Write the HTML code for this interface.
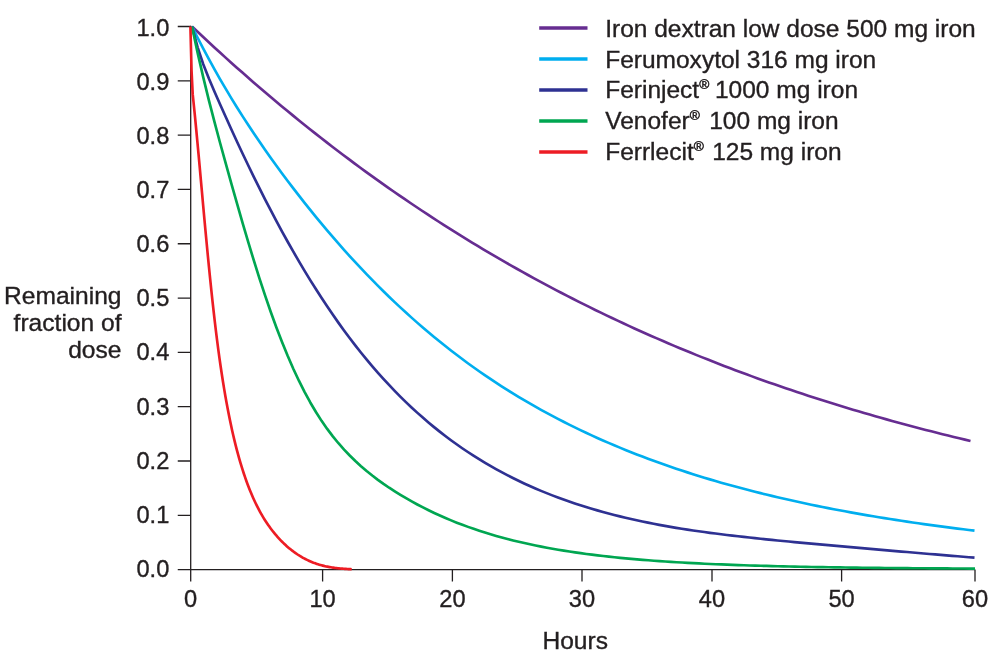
<!DOCTYPE html>
<html lang="en"><head><meta charset="utf-8"><title>Remaining fraction of dose</title>
<style>
html,body{margin:0;padding:0;background:#fff;}
svg{display:block;}
text{font-family:"Liberation Sans",Arial,Helvetica,sans-serif;font-size:23.3px;fill:#231f20;stroke:#231f20;stroke-width:0.35px;}
.c{fill:none;stroke-width:2.65;stroke-linecap:butt;stroke-linejoin:round;}
.a{stroke:#231f20;stroke-width:1.3;fill:none;}
</style></head><body>
<svg width="1000" height="657" viewBox="0 0 1000 657">
<rect width="1000" height="657" fill="#fff"/>
<path class="a" d="M190.7,25.85 V581.5 M177.75,569.6 H975"/>
<path class="a" d="M177.75,26.50 H190.7 M177.75,80.81 H190.7 M177.75,135.12 H190.7 M177.75,189.43 H190.7 M177.75,243.74 H190.7 M177.75,298.05 H190.7 M177.75,352.36 H190.7 M177.75,406.67 H190.7 M177.75,460.98 H190.7 M177.75,515.29 H190.7"/>
<path class="a" d="M322.6,569.6 V581.5 M452.4,569.6 V581.5 M582.0,569.6 V581.5 M712.0,569.6 V581.5 M841.6,569.6 V581.5 M975.0,569.6 V581.5"/>
<path class="c" stroke="#662d91" d="M192.00,26.50 L197.60,31.79 L203.20,37.04 L208.80,42.24 L214.40,47.41 L220.00,52.53 L225.60,57.61 L231.21,62.65 L236.81,67.65 L242.41,72.60 L248.01,77.52 L253.61,82.39 L259.21,87.23 L264.81,92.02 L270.41,96.77 L276.01,101.49 L281.61,106.16 L287.21,110.79 L292.81,115.39 L298.41,119.94 L304.01,124.46 L309.62,128.93 L315.22,133.37 L320.82,137.76 L326.42,142.12 L332.02,146.44 L337.62,150.73 L343.22,154.97 L348.82,159.18 L354.42,163.35 L360.02,167.48 L365.62,171.57 L371.22,175.63 L376.82,179.65 L382.42,183.63 L388.03,187.58 L393.63,191.49 L399.23,195.36 L404.83,199.20 L410.43,203.00 L416.03,206.77 L421.63,210.50 L427.23,214.20 L432.83,217.86 L438.43,221.49 L444.03,225.08 L449.63,228.64 L455.23,232.17 L460.83,235.66 L466.44,239.12 L472.04,242.54 L477.64,245.93 L483.24,249.29 L488.84,252.62 L494.44,255.91 L500.04,259.17 L505.64,262.41 L511.24,265.60 L516.84,268.77 L522.44,271.91 L528.04,275.01 L533.64,278.09 L539.24,281.13 L544.85,284.14 L550.45,287.13 L556.05,290.08 L561.65,293.00 L567.25,295.90 L572.85,298.76 L578.45,301.60 L584.05,304.41 L589.65,307.18 L595.25,309.94 L600.85,312.66 L606.45,315.35 L612.05,318.02 L617.65,320.66 L623.26,323.27 L628.86,325.86 L634.46,328.42 L640.06,330.95 L645.66,333.46 L651.26,335.94 L656.86,338.39 L662.46,340.82 L668.06,343.22 L673.66,345.60 L679.26,347.95 L684.86,350.28 L690.46,352.59 L696.06,354.87 L701.67,357.12 L707.27,359.35 L712.87,361.56 L718.47,363.75 L724.07,365.91 L729.67,368.05 L735.27,370.16 L740.87,372.25 L746.47,374.32 L752.07,376.37 L757.67,378.40 L763.27,380.40 L768.87,382.38 L774.47,384.35 L780.08,386.29 L785.68,388.21 L791.28,390.10 L796.88,391.98 L802.48,393.84 L808.08,395.67 L813.68,397.49 L819.28,399.29 L824.88,401.07 L830.48,402.82 L836.08,404.56 L841.68,406.28 L847.28,407.98 L852.88,409.66 L858.49,411.33 L864.09,412.97 L869.69,414.60 L875.29,416.21 L880.89,417.80 L886.49,419.37 L892.09,420.93 L897.69,422.47 L903.29,423.99 L908.89,425.49 L914.49,426.98 L920.09,428.45 L925.69,429.91 L931.29,431.34 L936.90,432.77 L942.50,434.17 L948.10,435.56 L953.70,436.94 L959.30,438.30 L964.90,439.64 L970.50,440.97"/>
<path class="c" stroke="#00aeef" d="M192.00,26.50 L197.63,37.75 L203.26,48.63 L208.89,59.16 L214.52,69.38 L220.15,79.29 L225.78,88.93 L231.41,98.31 L237.04,107.44 L242.67,116.35 L248.29,125.04 L253.92,133.53 L259.55,141.84 L265.18,149.97 L270.81,157.94 L276.44,165.75 L282.07,173.43 L287.70,180.97 L293.33,188.38 L298.96,195.67 L304.59,202.85 L310.22,209.91 L315.85,216.85 L321.48,223.67 L327.11,230.38 L332.74,236.97 L338.37,243.44 L344.00,249.80 L349.63,256.05 L355.26,262.19 L360.88,268.22 L366.51,274.13 L372.14,279.94 L377.77,285.64 L383.40,291.23 L389.03,296.72 L394.66,302.10 L400.29,307.39 L405.92,312.57 L411.55,317.64 L417.18,322.62 L422.81,327.51 L428.44,332.29 L434.07,336.98 L439.70,341.58 L445.33,346.08 L450.96,350.50 L456.59,354.82 L462.22,359.05 L467.85,363.20 L473.47,367.26 L479.10,371.24 L484.73,375.14 L490.36,378.95 L495.99,382.68 L501.62,386.33 L507.25,389.91 L512.88,393.41 L518.51,396.84 L524.14,400.19 L529.77,403.48 L535.40,406.69 L541.03,409.84 L546.66,412.93 L552.29,415.95 L557.92,418.90 L563.55,421.80 L569.18,424.63 L574.81,427.41 L580.44,430.12 L586.06,432.79 L591.69,435.39 L597.32,437.95 L602.95,440.45 L608.58,442.90 L614.21,445.30 L619.84,447.65 L625.47,449.95 L631.10,452.20 L636.73,454.41 L642.36,456.57 L647.99,458.69 L653.62,460.77 L659.25,462.81 L664.88,464.80 L670.51,466.75 L676.14,468.66 L681.77,470.54 L687.40,472.38 L693.03,474.18 L698.65,475.94 L704.28,477.67 L709.91,479.36 L715.54,481.02 L721.17,482.65 L726.80,484.24 L732.43,485.81 L738.06,487.34 L743.69,488.84 L749.32,490.31 L754.95,491.75 L760.58,493.16 L766.21,494.55 L771.84,495.91 L777.47,497.24 L783.10,498.54 L788.73,499.82 L794.36,501.08 L799.99,502.31 L805.62,503.51 L811.24,504.70 L816.87,505.86 L822.50,506.99 L828.13,508.11 L833.76,509.20 L839.39,510.27 L845.02,511.32 L850.65,512.35 L856.28,513.36 L861.91,514.35 L867.54,515.33 L873.17,516.28 L878.80,517.22 L884.43,518.13 L890.06,519.03 L895.69,519.91 L901.32,520.78 L906.95,521.63 L912.58,522.46 L918.21,523.28 L923.83,524.08 L929.46,524.87 L935.09,525.64 L940.72,526.40 L946.35,527.14 L951.98,527.87 L957.61,528.58 L963.24,529.28 L968.87,529.97 L974.50,530.65"/>
<path class="c" stroke="#2e3192" d="M192.00,26.50 L197.63,47.33 L203.26,64.22 L208.89,78.59 L214.52,91.70 L220.15,104.47 L225.78,117.07 L231.41,129.47 L237.04,141.69 L242.67,153.70 L248.29,165.49 L253.92,177.07 L259.55,188.43 L265.18,199.56 L270.81,210.46 L276.44,221.13 L282.07,231.56 L287.70,241.74 L293.33,251.69 L298.96,261.40 L304.59,270.86 L310.22,280.08 L315.85,289.07 L321.48,297.81 L327.11,306.32 L332.74,314.59 L338.37,322.62 L344.00,330.43 L349.63,338.00 L355.26,345.35 L360.88,352.48 L366.51,359.40 L372.14,366.10 L377.77,372.59 L383.40,378.88 L389.03,384.97 L394.66,390.86 L400.29,396.57 L405.92,402.10 L411.55,407.44 L417.18,412.61 L422.81,417.61 L428.44,422.44 L434.07,427.12 L439.70,431.63 L445.33,436.00 L450.96,440.22 L456.59,444.29 L462.22,448.22 L467.85,452.02 L473.47,455.69 L479.10,459.23 L484.73,462.65 L490.36,465.95 L495.99,469.13 L501.62,472.20 L507.25,475.16 L512.88,478.02 L518.51,480.78 L524.14,483.43 L529.77,486.00 L535.40,488.47 L541.03,490.85 L546.66,493.14 L552.29,495.36 L557.92,497.49 L563.55,499.54 L569.18,501.52 L574.81,503.43 L580.44,505.27 L586.06,507.04 L591.69,508.74 L597.32,510.38 L602.95,511.96 L608.58,513.48 L614.21,514.95 L619.84,516.36 L625.47,517.71 L631.10,519.02 L636.73,520.28 L642.36,521.48 L647.99,522.65 L653.62,523.76 L659.25,524.84 L664.88,525.87 L670.51,526.86 L676.14,527.82 L681.77,528.73 L687.40,529.61 L693.03,530.46 L698.65,531.27 L704.28,532.06 L709.91,532.82 L715.54,533.55 L721.17,534.27 L726.80,534.96 L732.43,535.63 L738.06,536.28 L743.69,536.91 L749.32,537.53 L754.95,538.14 L760.58,538.73 L766.21,539.31 L771.84,539.88 L777.47,540.45 L783.10,541.00 L788.73,541.54 L794.36,542.08 L799.99,542.61 L805.62,543.13 L811.24,543.65 L816.87,544.16 L822.50,544.67 L828.13,545.18 L833.76,545.68 L839.39,546.18 L845.02,546.68 L850.65,547.17 L856.28,547.67 L861.91,548.16 L867.54,548.65 L873.17,549.14 L878.80,549.63 L884.43,550.12 L890.06,550.60 L895.69,551.09 L901.32,551.57 L906.95,552.05 L912.58,552.53 L918.21,553.01 L923.83,553.49 L929.46,553.96 L935.09,554.44 L940.72,554.91 L946.35,555.38 L951.98,555.84 L957.61,556.30 L963.24,556.76 L968.87,557.21 L974.50,557.66"/>
<path class="c" stroke="#00a651" d="M192.00,26.50 L197.63,52.90 L203.27,77.37 L208.90,100.35 L214.53,122.20 L220.17,143.23 L225.80,163.70 L231.43,183.83 L237.06,203.73 L242.70,223.31 L248.33,242.43 L253.96,260.96 L259.60,278.83 L265.23,295.94 L270.86,312.25 L276.50,327.73 L282.13,342.34 L287.76,356.08 L293.40,368.94 L299.03,380.95 L304.66,392.12 L310.29,402.47 L315.93,412.04 L321.56,420.84 L327.19,428.92 L332.83,436.36 L338.46,443.23 L344.09,449.60 L349.73,455.51 L355.36,461.02 L360.99,466.17 L366.63,471.00 L372.26,475.54 L377.89,479.83 L383.53,483.88 L389.16,487.73 L394.79,491.39 L400.42,494.88 L406.06,498.22 L411.69,501.43 L417.32,504.50 L422.96,507.44 L428.59,510.26 L434.22,512.96 L439.86,515.55 L445.49,518.02 L451.12,520.39 L456.76,522.65 L462.39,524.81 L468.02,526.88 L473.65,528.86 L479.29,530.75 L484.92,532.55 L490.55,534.28 L496.19,535.92 L501.82,537.49 L507.45,538.99 L513.09,540.42 L518.72,541.78 L524.35,543.08 L529.99,544.33 L535.62,545.51 L541.25,546.64 L546.88,547.71 L552.52,548.74 L558.15,549.71 L563.78,550.64 L569.42,551.53 L575.05,552.37 L580.68,553.18 L586.32,553.94 L591.95,554.67 L597.58,555.36 L603.22,556.02 L608.85,556.65 L614.48,557.25 L620.12,557.82 L625.75,558.36 L631.38,558.88 L637.01,559.37 L642.65,559.84 L648.28,560.28 L653.91,560.71 L659.55,561.11 L665.18,561.49 L670.81,561.86 L676.45,562.21 L682.08,562.54 L687.71,562.85 L693.35,563.15 L698.98,563.43 L704.61,563.70 L710.24,563.96 L715.88,564.21 L721.51,564.44 L727.14,564.66 L732.78,564.87 L738.41,565.07 L744.04,565.27 L749.68,565.45 L755.31,565.62 L760.94,565.79 L766.58,565.94 L772.21,566.09 L777.84,566.24 L783.47,566.37 L789.11,566.50 L794.74,566.62 L800.37,566.74 L806.01,566.85 L811.64,566.96 L817.27,567.06 L822.91,567.16 L828.54,567.25 L834.17,567.34 L839.81,567.42 L845.44,567.50 L851.07,567.58 L856.71,567.65 L862.34,567.72 L867.97,567.78 L873.60,567.85 L879.24,567.91 L884.87,567.96 L890.50,568.02 L896.14,568.07 L901.77,568.12 L907.40,568.17 L913.04,568.21 L918.67,568.25 L924.30,568.30 L929.94,568.34 L935.57,568.37 L941.20,568.41 L946.83,568.44 L952.47,568.47 L958.10,568.51 L963.73,568.53 L969.37,568.56 L975.00,568.59"/>
<path class="c" stroke="#ed1c24" d="M190.40,26.50 L191.56,71.00 L192.72,94.42 L193.88,105.56 L195.04,117.20 L196.20,129.25 L197.36,141.62 L198.53,154.23 L199.69,166.99 L200.85,179.85 L202.01,192.72 L203.17,205.54 L204.33,218.26 L205.49,230.82 L206.65,243.19 L207.81,255.31 L208.97,267.16 L210.13,278.70 L211.29,289.91 L212.46,300.77 L213.62,311.26 L214.78,321.37 L215.94,331.09 L217.10,340.41 L218.26,349.34 L219.42,357.86 L220.58,366.02 L221.74,373.81 L222.90,381.27 L224.06,388.41 L225.22,395.24 L226.38,401.78 L227.55,408.05 L228.71,414.06 L229.87,419.83 L231.03,425.35 L232.19,430.66 L233.35,435.75 L234.51,440.64 L235.67,445.33 L236.83,449.84 L237.99,454.18 L239.15,458.34 L240.31,462.35 L241.47,466.21 L242.64,469.92 L243.80,473.49 L244.96,476.93 L246.12,480.24 L247.28,483.43 L248.44,486.50 L249.60,489.46 L250.76,492.32 L251.92,495.07 L253.08,497.73 L254.24,500.29 L255.40,502.76 L256.57,505.15 L257.73,507.45 L258.89,509.67 L260.05,511.82 L261.21,513.89 L262.37,515.89 L263.53,517.83 L264.69,519.70 L265.85,521.51 L267.01,523.27 L268.17,524.96 L269.33,526.61 L270.49,528.20 L271.66,529.75 L272.82,531.25 L273.98,532.70 L275.14,534.11 L276.30,535.48 L277.46,536.81 L278.62,538.10 L279.78,539.36 L280.94,540.57 L282.10,541.75 L283.26,542.90 L284.42,544.01 L285.58,545.09 L286.75,546.14 L287.91,547.16 L289.07,548.14 L290.23,549.10 L291.39,550.02 L292.55,550.92 L293.71,551.79 L294.87,552.63 L296.03,553.45 L297.19,554.23 L298.35,554.99 L299.51,555.73 L300.68,556.44 L301.84,557.12 L303.00,557.78 L304.16,558.42 L305.32,559.03 L306.48,559.62 L307.64,560.18 L308.80,560.72 L309.96,561.24 L311.12,561.74 L312.28,562.21 L313.44,562.67 L314.60,563.10 L315.77,563.52 L316.93,563.91 L318.09,564.29 L319.25,564.65 L320.41,564.99 L321.57,565.31 L322.73,565.61 L323.89,565.90 L325.05,566.17 L326.21,566.43 L327.37,566.67 L328.53,566.89 L329.69,567.11 L330.86,567.31 L332.02,567.49 L333.18,567.67 L334.34,567.83 L335.50,567.98 L336.66,568.12 L337.82,568.25 L338.98,568.38 L340.14,568.49 L341.30,568.59 L342.46,568.69 L343.62,568.78 L344.79,568.86 L345.95,568.93 L347.11,569.00 L348.27,569.06 L349.43,569.12 L350.59,569.17 L351.75,569.22"/>
<text transform="translate(169.30,35.65) scale(1.015,1)" text-anchor="end">1.0</text>
<text transform="translate(169.30,89.79) scale(1.015,1)" text-anchor="end">0.9</text>
<text transform="translate(169.30,143.93) scale(1.015,1)" text-anchor="end">0.8</text>
<text transform="translate(169.30,198.07) scale(1.015,1)" text-anchor="end">0.7</text>
<text transform="translate(169.30,252.21) scale(1.015,1)" text-anchor="end">0.6</text>
<text transform="translate(169.30,306.35) scale(1.015,1)" text-anchor="end">0.5</text>
<text transform="translate(169.30,360.49) scale(1.015,1)" text-anchor="end">0.4</text>
<text transform="translate(169.30,414.63) scale(1.015,1)" text-anchor="end">0.3</text>
<text transform="translate(169.30,468.77) scale(1.015,1)" text-anchor="end">0.2</text>
<text transform="translate(169.30,522.91) scale(1.015,1)" text-anchor="end">0.1</text>
<text transform="translate(169.30,577.05) scale(1.015,1)" text-anchor="end">0.0</text>
<text transform="translate(190.50,607.00) scale(1.015,1)" text-anchor="middle">0</text>
<text transform="translate(322.60,607.00) scale(1.015,1)" text-anchor="middle">10</text>
<text transform="translate(452.40,607.00) scale(1.015,1)" text-anchor="middle">20</text>
<text transform="translate(582.00,607.00) scale(1.015,1)" text-anchor="middle">30</text>
<text transform="translate(712.00,607.00) scale(1.015,1)" text-anchor="middle">40</text>
<text transform="translate(841.60,607.00) scale(1.015,1)" text-anchor="middle">50</text>
<text transform="translate(975.00,607.00) scale(1.015,1)" text-anchor="middle">60</text>
<text transform="translate(121.50,304.40) scale(1.055,1)" text-anchor="end">Remaining</text>
<text transform="translate(121.50,331.20) scale(1.055,1)" text-anchor="end">fraction of</text>
<text transform="translate(121.50,357.90) scale(1.055,1)" text-anchor="end">dose</text>
<text transform="translate(575.20,648.75) scale(1.055,1)" text-anchor="middle">Hours</text>
<path class="c" style="stroke-width:3.5" stroke="#662d91" d="M539.2,28 H587.5"/>
<text transform="translate(605.20,36.60) scale(1.052,1)" text-anchor="start">Iron dextran low dose 500 mg iron</text>
<path class="c" style="stroke-width:3.5" stroke="#00aeef" d="M539.2,59 H587.5"/>
<text transform="translate(605.20,67.60) scale(1.052,1)" text-anchor="start">Ferumoxytol 316 mg iron</text>
<path class="c" style="stroke-width:3.5" stroke="#2e3192" d="M539.2,89.9 H587.5"/>
<text transform="translate(605.20,98.10) scale(1.052,1)" text-anchor="start">Ferinject<tspan dy="-9.3" font-size="13" style="stroke-width:0.5px">®</tspan><tspan dy="9.3" dx="-1.0"> 1000 mg iron</tspan></text>
<path class="c" style="stroke-width:3.5" stroke="#00a651" d="M539.2,121 H587.5"/>
<text transform="translate(605.20,129.10) scale(1.052,1)" text-anchor="start">Venofer<tspan dy="-9.3" font-size="13" style="stroke-width:0.5px">®</tspan><tspan dy="9.3" dx="2.5"> 100 mg iron</tspan></text>
<path class="c" style="stroke-width:3.5" stroke="#ed1c24" d="M539.2,152 H587.5"/>
<text transform="translate(605.20,159.90) scale(1.052,1)" text-anchor="start">Ferrlecit<tspan dy="-9.3" font-size="13" style="stroke-width:0.5px">®</tspan><tspan dy="9.3" dx="1.5"> 125 mg iron</tspan></text>
</svg>
</body></html>
